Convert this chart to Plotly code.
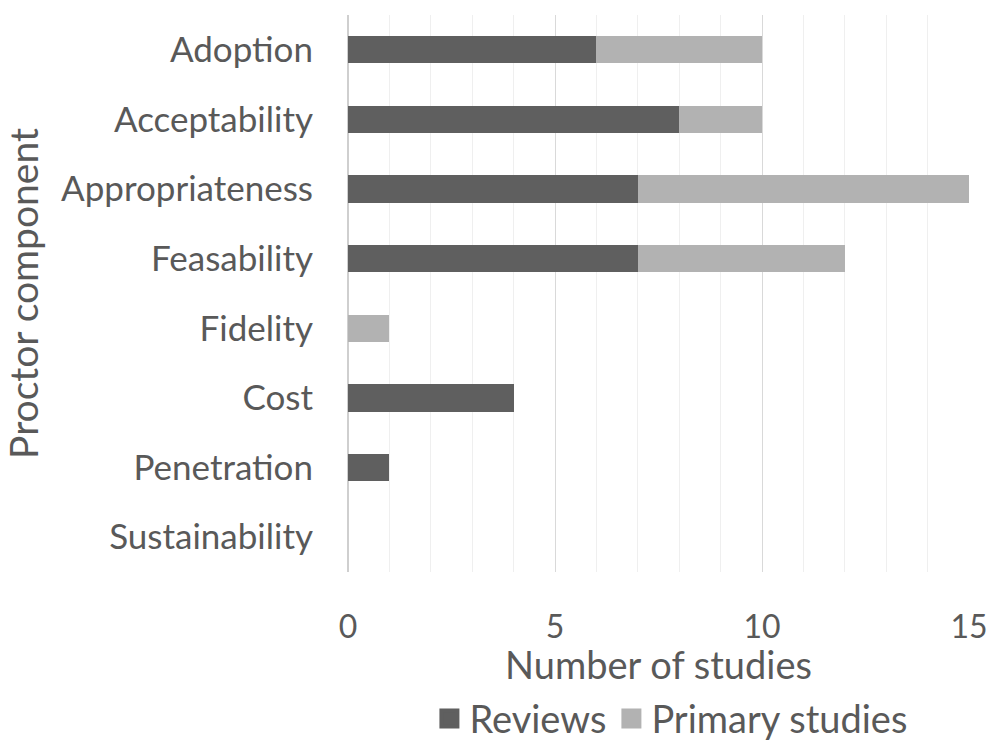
import plotly.graph_objects as go

categories = ["Adoption", "Acceptability", "Appropriateness", "Feasability",
              "Fidelity", "Cost", "Penetration", "Sustainability"]
reviews = [6, 8, 7, 7, 0, 4, 1, 0]
primary_studies = [4, 2, 8, 5, 1, 0, 0, 0]
x_ticks = [0, 5, 10, 15]
series_names = ["Reviews", "Primary studies"]
series_colors = ["#5f5f5f", "#b2b2b2"]

FONT = "Lato"
TXT = "#595959"

fig = go.Figure()
for name, vals, col in zip(series_names, [reviews, primary_studies], series_colors):
    fig.add_trace(go.Bar(y=categories, x=vals, name=name, orientation="h",
                         marker=dict(color=col, line=dict(width=0)),
                         legendgroup=name, showlegend=False))
# legend entries with larger square swatches
for name, col in zip(series_names, series_colors):
    fig.add_trace(go.Scatter(x=[None], y=[None], mode="markers", name=name,
                             legendgroup=name, showlegend=True,
                             marker=dict(symbol="square", size=16, color=col,
                                         line=dict(width=4, color=col))))

fig.update_layout(
    width=987, height=744,
    barmode="stack", bargap=0.61,
    plot_bgcolor="white", paper_bgcolor="white",
    margin=dict(l=348, r=18, t=15, b=172),
    font=dict(family=FONT, size=35, color=TXT),
    xaxis=dict(range=[0, 15], tickvals=x_ticks, showgrid=True, gridcolor="#d9d9d9", gridwidth=1,
               zeroline=True, zerolinecolor="#cfcfcf", zerolinewidth=2, automargin=False,
               minor=dict(dtick=1, showgrid=True, gridcolor="#efefef", gridwidth=1),
               ticklabelstandoff=33, ticklabeloverflow="allow",
               showline=False, tickfont=dict(size=32, color=TXT),
               title=dict(text="Number of studies", standoff=18, font=dict(size=38, color=TXT))),
    yaxis=dict(categoryorder="array", categoryarray=categories, autorange="reversed",
               showgrid=False, ticks="", ticklabelstandoff=34, showline=False, automargin=False,
               tickfont=dict(size=35, color=TXT),
               title=dict(text="Proctor component", standoff=26, font=dict(size=39, color=TXT))),
    legend=dict(orientation="h", x=0.52, xanchor="center", xref="paper",
                y=0.034, yanchor="middle", yref="container",
                font=dict(size=38, color=TXT), traceorder="normal"),
    showlegend=True,
)

fig.write_html("out.html", config={"displayModeBar": False},
               post_script="document.body.style.margin='0';document.body.style.overflow='hidden';")
